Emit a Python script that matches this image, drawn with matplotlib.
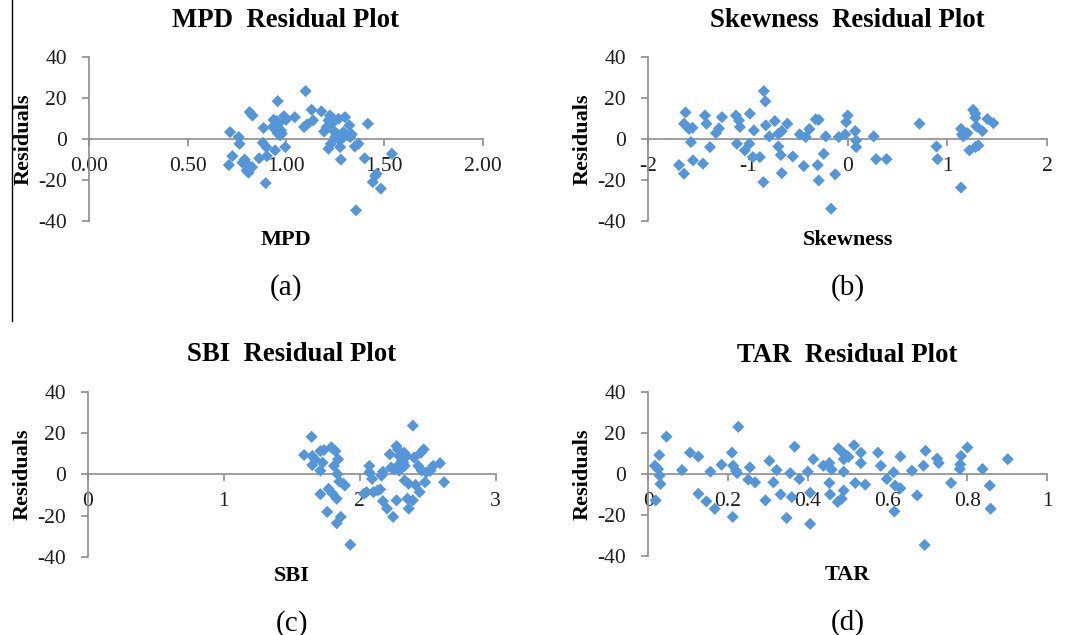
import matplotlib
matplotlib.use("Agg")
import matplotlib.pyplot as plt
from matplotlib.lines import Line2D

plt.rcParams['font.family'] = ['Liberation Serif', 'DejaVu Serif']
plt.rcParams['axes.unicode_minus'] = False

# ---- data ----
mpd_x = [0.716, 0.728, 0.71, 0.76, 0.764, 0.79, 0.779, 0.804, 0.81, 0.80, 0.828, 0.815,
         0.83, 0.864, 0.886, 0.882, 0.90, 0.903, 0.897, 0.933, 0.937, 0.945, 0.953, 0.958,
         0.962, 0.957, 0.97, 0.975, 0.979, 0.99, 0.997, 1.0, 1.045, 1.10, 1.092, 1.108,
         1.13, 1.138, 1.18, 1.194, 1.207, 1.216, 1.224, 1.233, 1.216, 1.228, 1.24, 1.25,
         1.258, 1.267, 1.275, 1.275, 1.279, 1.292, 1.30, 1.31, 1.322, 1.326, 1.334, 1.35,
         1.368, 1.356, 1.416, 1.40, 1.453, 1.441, 1.482, 1.538, 1.46]
mpd_res = [3.4, -8.3, -12.7, 1.0, -2.3, -10.0, -11.5, -12.2, -16.4, -15.3, -13.7, 13.2,
           11.5, -9.4, 5.4, -1.8, -3.9, -8.3, -21.5, 5.9, 9.4, -5.5, 8.8, 18.5,
           7.5, 2.9, 1.8, 4.2, 2.6, 11.2, -3.9, 9.4, 10.7, 23.4, 5.9, 7.2,
           14.3, 9.1, 13.5, 3.7, 5.9, 9.1, 11.5, 7.5, -4.7, -2.3, 4.2, 1.0,
           2.6, 9.9, -0.7, -3.9, -10.0, 3.4, 10.7, 1.8, 6.7, 1.0, 2.3, -3.6,
           -2.3, -34.8, 7.5, -9.4, -18.0, -21.0, -24.2, -7.2, -17.0]

skew_x = [-1.69, -1.64, -1.625, -1.64, -1.59, -1.555, -1.57, -1.55, -1.45, -1.43, -1.415,
          -1.38, -1.32, -1.29, -1.26, -1.12, -1.09, -1.08, -1.11, -1.03, -0.98, -0.985,
          -0.94, -0.95, -0.88, -0.84, -0.825, -0.82, -0.845, -0.785, -0.73, -0.695, -0.695,
          -0.67, -0.66, -0.66, -0.605, -0.55, -0.48, -0.44, -0.42, -0.384, -0.32, -0.29,
          -0.30, -0.29, -0.24, -0.22, -0.166, -0.125, -0.09, -0.025, -0.015, 0.0, 0.075,
          0.085, 0.085, 0.26, 0.285, 0.39, 0.72, 0.89, 0.90, 1.136, 1.146, 1.16, 1.136,
          1.20, 1.22, 1.257, 1.28, 1.28, 1.28, 1.29, 1.31, 1.35, 1.40, 1.46]
skew_res = [-12.7, 7.5, 13.0, -16.9, 5.0, 5.5, -1.5, -10.4, -12.0, 11.5, 7.5,
            -3.9, 2.9, 5.2, 10.7, 11.5, 9.1, 5.9, -2.3, -5.5, 12.4, -2.3,
            4.2, -8.8, -8.8, 23.4, 18.4, 6.7, -21.0, 1.3, 8.8, 2.6, -3.6,
            -7.8, 3.9, -16.6, 7.5, -8.5, 2.3, -13.2, 1.0, 4.9, 9.6, 9.4,
            -12.7, -20.2, -7.2, 1.3, -34.0, -17.2, 1.0, 2.3, 8.3, 11.5, 3.9,
            -0.7, -3.9, 1.3, -9.8, -9.8, 7.5, -3.6, -9.8, 5.0, 2.3, 1.3, -23.7,
            2.9, -5.5, 14.3, 12.4, 10.4, -3.9, 6.2, -3.1, 3.9, 9.8, 7.8]

sbi_x = [1.59, 1.645, 1.65, 1.65, 1.67, 1.71, 1.71, 1.71, 1.726, 1.736, 1.76, 1.77,
         1.79, 1.80, 1.82, 1.81, 1.83, 1.83, 1.84, 1.835, 1.85, 1.86, 1.88, 1.89,
         1.93, 2.03, 2.05, 2.07, 2.07, 2.09, 2.10, 2.13, 2.15, 2.16, 2.17, 2.17,
         2.20, 2.22, 2.23, 2.245, 2.25, 2.27, 2.27, 2.28, 2.28, 2.29, 2.29, 2.31,
         2.32, 2.325, 2.33, 2.33, 2.345, 2.35, 2.36, 2.36, 2.39, 2.39, 2.40, 2.41,
         2.43, 2.44, 2.45, 2.455, 2.47, 2.48, 2.49, 2.52, 2.54, 2.59, 2.62]
sbi_res = [9.4, 18.2, 8.9, 4.5, 7.3, 11.3, 1.8, -9.6, 5.7, 11.8, -18.2, -7.0,
           13.1, -9.4, 11.3, 4.1, -11.8, -23.7, 7.3, 0.2, -3.5, -20.6, -4.6, -5.4,
           -34.1, -9.4, -8.6, 4.1, 1.0, -2.2, -8.6, -7.8, -7.3, -0.6, -13.0, 1.3,
           -16.6, 9.7, 3.3, -20.6, 2.5, 13.7, -12.6, 12.1, 4.1, 1.8, 8.9, 6.5,
           5.7, 10.5, 4.1, -3.0, 8.9, -11.8, -4.6, -16.6, -12.6, 23.6, 8.1, -5.1,
           4.1, -8.6, 10.5, 1.8, 12.1, -3.8, 1.0, 1.8, 4.1, 5.4, -3.8]

tar_x = [0.017, 0.019, 0.025, 0.028, 0.029, 0.031, 0.046, 0.085, 0.105, 0.126, 0.126,
         0.146, 0.156, 0.167, 0.184, 0.21, 0.212, 0.213, 0.22, 0.223, 0.226, 0.251,
         0.255, 0.268, 0.294, 0.304, 0.314, 0.322, 0.332, 0.347, 0.356, 0.36, 0.367,
         0.379, 0.40, 0.406, 0.406, 0.414, 0.439, 0.454, 0.454, 0.456, 0.46, 0.475,
         0.477, 0.485, 0.488, 0.49, 0.49, 0.49, 0.498, 0.502, 0.516, 0.519, 0.533,
         0.533, 0.544, 0.576, 0.583, 0.598, 0.615, 0.617, 0.619, 0.632, 0.632, 0.661,
         0.674, 0.69, 0.693, 0.695, 0.724, 0.728, 0.759, 0.781, 0.782, 0.784, 0.80,
         0.838, 0.856, 0.858, 0.901]
tar_res = [4.2, -12.7, 2.6, 9.4, -0.6, -4.7, 18.4, 2.1, 10.6, 8.7, -9.5,
           -13.2, 1.3, -16.8, 4.7, 10.6, -20.8, 4.2, 1.8, 0.6, 23.2, -2.6,
           3.4, -3.9, -12.7, 6.6, -3.9, 2.1, -9.8, -21.3, 0.6, -11.1, 13.5,
           -2.3, 1.3, -9.0, -24.2, 7.4, 4.2, 5.5, -4.2, -9.8, 2.3, -13.5,
           12.6, -11.9, 10.6, 1.3, 7.4, -7.9, 9.0, 8.5, 14.2, -4.2, 10.6,
           5.5, -5.0, 10.6, 4.2, -2.3, 1.0, -18.1, -5.5, 8.7, -6.8, 1.8,
           -10.3, 4.2, -34.5, 11.5, 7.7, 5.5, -4.2, 2.6, 4.8, 9.0, 13.1,
           2.6, -5.5, -16.8, 7.4]

panels = [
    # name, x, y, xlim, xticks, xtick labels, axes rect, tag
    ('MPD', mpd_x, mpd_res, (0, 2), [0, 0.5, 1.0, 1.5, 2.0],
     ['0.00', '0.50', '1.00', '1.50', '2.00'], [0.083, 0.652, 0.367, 0.258], '(a)'),
    ('Skewness', skew_x, skew_res, (-2, 2), [-2, -1, 0, 1, 2],
     ['-2', '-1', '0', '1', '2'], [0.604, 0.652, 0.372, 0.258], '(b)'),
    ('SBI', sbi_x, sbi_res, (0, 3), [0, 1, 2, 3],
     ['0', '1', '2', '3'], [0.082, 0.123, 0.380, 0.260], '(c)'),
    ('TAR', tar_x, tar_res, (0, 1), [0, 0.2, 0.4, 0.6, 0.8, 1.0],
     ['0', '0.2', '0.4', '0.6', '0.8', '1'], [0.604, 0.124, 0.372, 0.258], '(d)'),
]

axis_grey = '#8c8c8c'
text_grey = '#1e1e1e'
blue = '#5596d8'

fig = plt.figure(figsize=(10.73, 6.35), dpi=100)

for name, xs, ys, xlim, xt, xtl, rect, tag in panels:
    ax = fig.add_axes(rect)
    ax.scatter(xs, ys, marker='D', s=38, color=blue, edgecolors='none', zorder=3)
    ax.set_xlim(*xlim)
    ax.set_ylim(-40, 40)
    ax.set_yticks([-40, -20, 0, 20, 40])
    ax.set_xticks(xt)
    ax.set_xticklabels(xtl)
    for s in ['top', 'right']:
        ax.spines[s].set_visible(False)
    ax.spines['bottom'].set_position(('data', 0))
    for s in ['left', 'bottom']:
        ax.spines[s].set_color(axis_grey)
        ax.spines[s].set_linewidth(1.2)
    ax.tick_params(axis='both', direction='out', length=5, width=1.2,
                   color=axis_grey, labelsize=15.5, labelcolor=text_grey)
    ax.tick_params(axis='y', pad=11)
    ax.tick_params(axis='x', pad=8)
    ax.patch.set_alpha(0)
    ax.set_ylabel('Residuals', fontsize=16, fontweight='bold', labelpad=3)
    ax.set_title(name + '  Residual Plot', fontsize=19.3, fontweight='bold', pad=22)
    x0, y0, w, h = rect
    fig.text(x0 + w / 2, y0 - 0.03, name, fontsize=16, fontweight='bold',
             ha='center', va='center')
    fig.text(x0 + w / 2, y0 - 0.105, tag, fontsize=21, ha='center', va='center')

# vertical rule on the left of the top row
fig.add_artist(Line2D([0.011, 0.011], [0.495, 1.0], color='black', linewidth=1,
                      transform=fig.transFigure))

fig.savefig('out.png', dpi=100)
